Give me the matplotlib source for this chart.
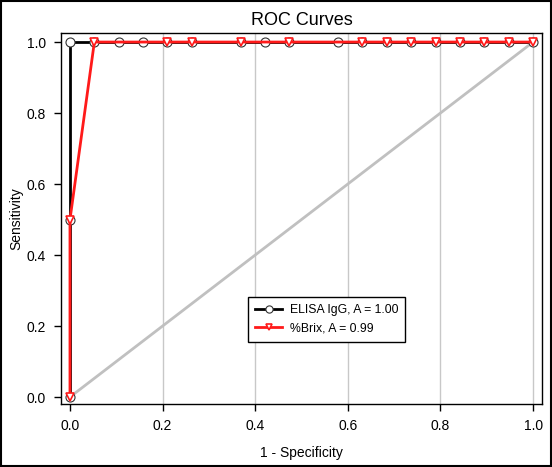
import matplotlib
matplotlib.use('Agg')
from matplotlib import pyplot
from matplotlib.patches import Rectangle

pyplot.rcParams['font.family'] = ['Liberation Sans', 'DejaVu Sans']

# false positive rate steps are 1/19
n = 19
elisa_idx = [0, 0, 0, 1, 2, 3, 4, 5, 7, 8, 9, 11, 12, 13, 14, 15, 16, 17, 18, 19]
elisa_sens = [0.0, 0.5, 1.0] + [1.0] * 17
brix_idx = [0, 0, 1, 4, 5, 7, 9, 12, 13, 14, 15, 16, 17, 18, 19]
brix_sens = [0.0, 0.5, 1.0] + [1.0] * 12

elisa_fpr = [i / n for i in elisa_idx]
brix_fpr = [i / n for i in brix_idx]

xticks = [0.0, 0.2, 0.4, 0.6, 0.8, 1.0]
yticks = [0.0, 0.2, 0.4, 0.6, 0.8, 1.0]

fig = pyplot.figure(figsize=(5.52, 4.67), dpi=100)
ax = fig.add_axes([0.1105, 0.1349, 0.8715, 0.7944])

for xv in xticks[1:]:
    ax.axvline(xv, color='#c8c8c8', lw=1, zorder=0)

ax.plot([0, 1], [0, 1], color='#c0c0c0', lw=2, zorder=1)
ax.plot(elisa_fpr, elisa_sens, '-o', color='black', lw=2, ms=6.5,
        mfc='white', mec='#333333', mew=0.8, zorder=2, label='ELISA IgG, A = 1.00')
ax.plot(brix_fpr, brix_sens, '-v', color='#ff1a1a', lw=2, ms=6,
        mfc='white', mec='#ff1a1a', mew=1.2, zorder=3, label='%Brix, A = 0.99')

ax.set_xlim(-0.0194, 1.0194)
ax.set_ylim(-0.0197, 1.0254)
ax.set_xticks(xticks)
ax.set_yticks(yticks)
ax.set_xticklabels(['%.1f' % v for v in xticks])
ax.set_yticklabels(['%.1f' % v for v in yticks])
ax.tick_params(direction='out', length=5, width=1, labelsize=10, pad=6)
for s in ax.spines.values():
    s.set_linewidth(1)

ax.set_xlabel('1 - Specificity', fontsize=10, labelpad=9)
ax.set_ylabel('Sensitivity', fontsize=10, labelpad=2)
ax.set_title('ROC Curves', fontsize=13, pad=6)

leg = ax.legend(loc='lower left', bbox_to_anchor=(0.376, 0.151), fontsize=8.8,
                fancybox=False, edgecolor='black', framealpha=1,
                handlelength=2.2, handletextpad=0.6, borderpad=0.6, markerscale=0.8)
leg.get_frame().set_linewidth(1)

fig.patches.append(Rectangle((0.002, 0.002), 0.996, 0.996, transform=fig.transFigure,
                             fill=False, edgecolor='black', lw=1.5))

pyplot.savefig('out.png', dpi=100)
